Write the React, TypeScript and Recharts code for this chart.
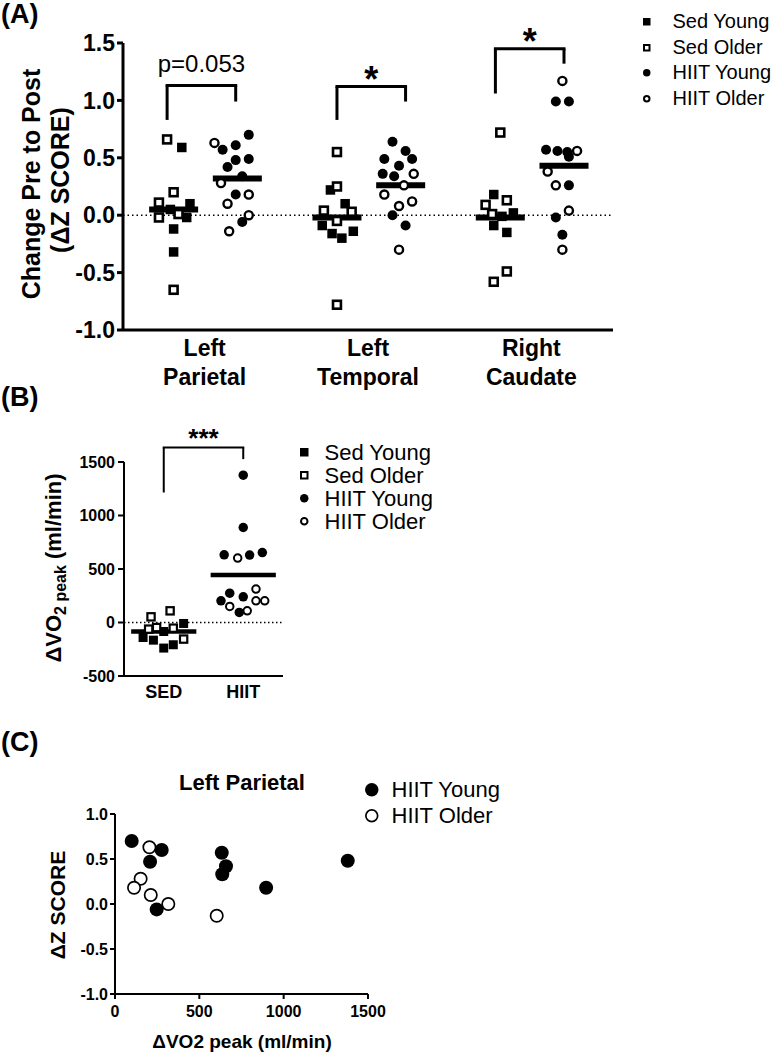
import React from 'react';
import { ScatterChart, Scatter, XAxis, YAxis, ReferenceLine, Legend } from 'recharts';

const FONT = '"Liberation Sans", Arial, sans-serif';

// ---- panel A: change pre to post (delta Z score) per region ----
const REGIONS = [['Left', 'Parietal'], ['Left', 'Temporal'], ['Right', 'Caudate']];
const A_TICKS = [-1, -0.5, 0, 0.5, 1, 1.5];
const SED_AT = 0.31;
const HIIT_AT = 0.7;

// [x jitter, value] per subject, one list per region
const A_SED_YOUNG = [
  [[0.05, 0.59], [0.1, 0.1], [-0.02, 0.05], [0.08, -0.02], [0, -0.12], [0, -0.32]],
  [[-0.04, 0.22], [0.05, 0.1], [-0.09, -0.09], [-0.03, -0.16], [0.1, -0.14], [0.03, -0.2]],
  [[-0.04, 0.18], [0.08, 0.02], [0.01, -0.01], [-0.04, -0.09], [0.04, -0.15]],
];
const A_SED_OLDER = [
  [[-0.04, 0.66], [0, 0.2], [-0.09, 0.11], [-0.09, -0.02], [0.03, 0.01], [0, -0.65]],
  [[0, 0.55], [0, 0.25], [-0.08, 0.04], [0.09, 0.03], [0, -0.05], [0, -0.78]],
  [[0, 0.72], [-0.09, 0.09], [0.04, 0.13], [-0.05, 0.01], [0.04, -0.49], [-0.04, -0.58]],
];
const A_HIIT_YOUNG = [
  [[-0.09, 0.57], [-0.01, 0.61], [0.07, 0.7], [-0.01, 0.48], [-0.06, 0.42], [0.07, 0.49], [0.03, 0.34], [-0.01, 0.18], [0.03, -0.06]],
  [[-0.05, 0.64], [0.03, 0.56], [-0.1, 0.49], [0.07, 0.49], [-0.01, 0.43], [-0.11, 0.36], [-0.04, 0.34], [-0.05, 0.0], [0.03, -0.09]],
  [[-0.05, 0.99], [0.03, 0.99], [-0.11, 0.57], [-0.04, 0.56], [0.02, 0.55], [0.03, 0.51], [0.03, 0.26], [-0.05, -0.02], [-0.01, -0.17]],
];
const A_HIIT_OLDER = [
  [[-0.14, 0.63], [-0.1, 0.28], [0.07, 0.18], [-0.06, 0.1], [0.07, 0.0], [-0.05, -0.14]],
  [[0.08, 0.36], [0.02, 0.26], [-0.1, 0.18], [0.07, 0.12], [-0.01, 0.08], [-0.01, -0.3]],
  [[-0.01, 1.17], [0.08, 0.56], [-0.1, 0.38], [-0.05, 0.26], [0.03, 0.04], [-0.01, -0.3]],
];
const A_MEDIANS = [[0.05, 0.32], [-0.02, 0.26], [-0.02, 0.43]];
// [left x, right x, top, left foot, right foot]
const A_BRACKETS = [
  [0.27, 0.69, 1.13, 0.83, 0.99],
  [1.31, 1.73, 1.12, 0.83, 0.99],
  [2.28, 2.7, 1.45, 1.06, 1.32],
];
const A_SIG = ['p=0.053', '*', '*'];

// ---- panel B: delta VO2 peak ----
const B_GROUPS = ['SED', 'HIIT'];
const B_TICKS = [-500, 0, 500, 1000, 1500];
const B_SED_YOUNG = [[0.25, -9], [0, -84], [-0.26, -140], [-0.13, -165], [0.12, -208], [0, -239]];
const B_SED_OLDER = [[-0.16, 53], [0.08, 109], [-0.19, -62], [-0.09, -47], [0.12, -53], [0.25, -155]];
const B_HIIT_YOUNG = [[0, 1377], [0, 888], [-0.24, 633], [0.08, 630], [0.24, 654], [-0.17, 274], [0, 240], [-0.28, 203], [-0.05, 94]];
const B_HIIT_OLDER = [[-0.07, 602], [0.16, 312], [0.16, 203], [0.27, 203], [-0.17, 150], [0.05, 109]];
const B_MEDIANS = [-84, 443];
const B_BRACKET = [0.5, 1.5, 1636, 1215, 1527];

// ---- panel C: left parietal vs delta VO2 ----
const C_YOUNG_VO2 = [99, 277, 208, 247, 633, 658, 636, 896, 1380];
const C_YOUNG_Z = [0.7, 0.6, 0.47, -0.06, 0.57, 0.42, 0.33, 0.18, 0.48];
const C_OLDER_VO2 = [204, 152, 113, 212, 316, 603];
const C_OLDER_Z = [0.63, 0.28, 0.18, 0.1, 0.0, -0.13];

type Kind = 'fsq' | 'osq' | 'fci' | 'oci';

const Marker = ({ kind, cx, cy, size, sw = 2 }: { kind: Kind; cx: number; cy: number; size: number; sw?: number }) => {
  const h = size / 2;
  if (kind === 'fsq') return <rect x={cx - h} y={cy - h} width={size} height={size} fill="#000" />;
  if (kind === 'osq')
    return <rect x={cx - h + sw / 2} y={cy - h + sw / 2} width={size - sw} height={size - sw} fill="#fff" stroke="#000" strokeWidth={sw} />;
  if (kind === 'fci') return <circle cx={cx} cy={cy} r={h} fill="#000" />;
  return <circle cx={cx} cy={cy} r={h - sw / 2} fill="#fff" stroke="#000" strokeWidth={sw} />;
};

const shapeOf = (kind: Kind, size: number, sw = 2) => (p: any) => <Marker kind={kind} cx={p.cx} cy={p.cy} size={size} sw={sw} />;

const LegendBox = ({ items, size, font, rowH, gap, sw = 2 }: any) => (
  <div style={{ fontFamily: FONT, fontSize: font, color: '#000' }}>
    {items.map(([kind, label]: [Kind, string]) => (
      <div key={label} style={{ display: 'flex', alignItems: 'center', height: rowH, whiteSpace: 'nowrap' }}>
        <svg width={size + 4} height={size + 4} style={{ flex: 'none' }}>
          <Marker kind={kind} cx={(size + 4) / 2} cy={(size + 4) / 2} size={size} sw={sw} />
        </svg>
        <span style={{ marginLeft: gap, lineHeight: rowH + 'px' }}>{label}</span>
      </div>
    ))}
  </div>
);

const FOUR: [Kind, string][] = [['fsq', 'Sed Young'], ['osq', 'Sed Older'], ['fci', 'HIIT Young'], ['oci', 'HIIT Older']];
const TWO: [Kind, string][] = [['fci', 'HIIT Young'], ['oci', 'HIIT Older']];

const regionPoints = (lists: number[][][], at: number) =>
  lists.flatMap((pts, i) => pts.map(([dx, y]) => ({ x: i + at + dx, y })));
const groupPoints = (pts: number[][], at: number) => pts.map(([dx, y]) => ({ x: at + dx, y }));

const RegionTick = ({ x, y, payload }: any) => {
  const lines = REGIONS[Math.floor(payload.value)];
  return (
    <text x={x} y={y} textAnchor="middle" fontFamily={FONT} fontWeight="bold" fontSize={23} fill="#000">
      <tspan x={x} dy={26}>{lines[0]}</tspan>
      <tspan x={x} dy={29}>{lines[1]}</tspan>
    </text>
  );
};

const axisA = { stroke: '#000', strokeWidth: 3 };
const axisBC = { stroke: '#000', strokeWidth: 2 };

const bracket = (b: number[], sig: string, key: string, sw: number, labelProps: any) => [
  <ReferenceLine key={key + 't'} ifOverflow="visible" stroke="#000" strokeWidth={sw} strokeLinecap="square"
    segment={[{ x: b[0], y: b[2] }, { x: b[1], y: b[2] }]}
    label={{ value: sig, position: 'top', fill: '#000', fontFamily: FONT, ...labelProps }} />,
  <ReferenceLine key={key + 'l'} ifOverflow="visible" stroke="#000" strokeWidth={sw} segment={[{ x: b[0], y: b[2] }, { x: b[0], y: b[3] }]} />,
  <ReferenceLine key={key + 'r'} ifOverflow="visible" stroke="#000" strokeWidth={sw} segment={[{ x: b[1], y: b[2] }, { x: b[1], y: b[4] }]} />,
];

const PanelA = () => (
  <ScatterChart width={777} height={400} margin={{ top: 43, right: 164, bottom: 40, left: 0 }}>
    <XAxis type="number" dataKey="x" domain={[0, 3]} ticks={[0.5, 1.5, 2.5]} interval={0} height={30}
      tick={<RegionTick />} tickLine={false} tickSize={0} tickMargin={0} axisLine={axisA} />
    <YAxis type="number" dataKey="y" domain={[-1, 1.5]} ticks={A_TICKS} interval={0} width={123}
      tickSize={6} tickMargin={2} tickLine={axisA} axisLine={axisA}
      tick={{ fill: '#000', fontSize: 23, fontWeight: 'bold', fontFamily: FONT }}
      tickFormatter={(v: number) => v.toFixed(1)} />
    <ReferenceLine y={0} stroke="#000" strokeWidth={1.5} strokeDasharray="1.5 3" />
    <Scatter name="Sed Young" data={regionPoints(A_SED_YOUNG, SED_AT)} shape={shapeOf('fsq', 9.5)} isAnimationActive={false} />
    <Scatter name="Sed Older" data={regionPoints(A_SED_OLDER, SED_AT)} shape={shapeOf('osq', 10.5, 2.6)} isAnimationActive={false} />
    <Scatter name="HIIT Young" data={regionPoints(A_HIIT_YOUNG, HIIT_AT)} shape={shapeOf('fci', 10)} isAnimationActive={false} />
    <Scatter name="HIIT Older" data={regionPoints(A_HIIT_OLDER, HIIT_AT)} shape={shapeOf('oci', 10.5, 2.4)} isAnimationActive={false} />
    {A_MEDIANS.flatMap(([sed, hiit], i) => [
      <ReferenceLine key={'ms' + i} stroke="#000" strokeWidth={6}
        segment={[{ x: i + SED_AT - 0.15, y: sed }, { x: i + SED_AT + 0.15, y: sed }]} />,
      <ReferenceLine key={'mh' + i} stroke="#000" strokeWidth={6}
        segment={[{ x: i + HIIT_AT - 0.15, y: hiit }, { x: i + HIIT_AT + 0.15, y: hiit }]} />,
    ])}
    {A_BRACKETS.flatMap((b, i) =>
      bracket(b, A_SIG[i], 'b' + i, 3,
        i === 0 ? { fontSize: 24, offset: 13 } : { fontSize: 36, fontWeight: 'bold', offset: -5 }))}
    <Legend layout="horizontal" verticalAlign="middle" align="center"
      wrapperStyle={{ left: 641, top: 9, width: 136 }}
      content={() => <LegendBox items={FOUR} size={7.5} font={20} rowH={25.5} gap={20} />} />
  </ScatterChart>
);

const PanelB = () => (
  <ScatterChart width={777} height={320} margin={{ top: 62, right: 494, bottom: 14, left: 0 }}>
    <XAxis type="number" dataKey="x" domain={[0, 2]} ticks={[0.5, 1.5]} interval={0} height={30}
      tickLine={false} tickSize={0} tickMargin={9} axisLine={axisBC}
      tick={{ fill: '#000', fontSize: 18, fontWeight: 'bold', fontFamily: FONT }}
      tickFormatter={(v: number) => B_GROUPS[Math.floor(v)]} />
    <YAxis type="number" dataKey="y" domain={[-500, 1500]} ticks={B_TICKS} interval={0} width={124}
      tickSize={6} tickMargin={3} tickLine={axisBC} axisLine={axisBC}
      tick={{ fill: '#000', fontSize: 16, fontWeight: 'bold', fontFamily: FONT }} />
    <ReferenceLine y={0} stroke="#000" strokeWidth={1.3} strokeDasharray="1.5 2.5" />
    <Scatter name="Sed Young" data={groupPoints(B_SED_YOUNG, 0.5)} shape={shapeOf('fsq', 9)} isAnimationActive={false} />
    <Scatter name="Sed Older" data={groupPoints(B_SED_OLDER, 0.5)} shape={shapeOf('osq', 9.5, 2.2)} isAnimationActive={false} />
    <Scatter name="HIIT Young" data={groupPoints(B_HIIT_YOUNG, 1.5)} shape={shapeOf('fci', 9.5)} isAnimationActive={false} />
    <Scatter name="HIIT Older" data={groupPoints(B_HIIT_OLDER, 1.5)} shape={shapeOf('oci', 9.5, 2)} isAnimationActive={false} />
    {B_MEDIANS.map((m, i) => (
      <ReferenceLine key={'m' + i} stroke="#000" strokeWidth={4.5}
        segment={[{ x: i + 0.5 - 0.41, y: m }, { x: i + 0.5 + 0.41, y: m }]} />
    ))}
    {bracket(B_BRACKET, '***', 'bb', 2, { fontSize: 26, fontWeight: 'bold', offset: 0 })}
    <Legend layout="horizontal" verticalAlign="middle" align="center"
      wrapperStyle={{ left: 298, top: 41, width: 160 }}
      content={() => <LegendBox items={FOUR} size={8.5} font={22} rowH={23} gap={14} />} />
  </ScatterChart>
);

const PanelC = () => (
  <ScatterChart width={777} height={337} margin={{ top: 94, right: 409, bottom: 8, left: 0 }}>
    <XAxis type="number" dataKey="x" domain={[0, 1500]} ticks={[0, 500, 1000, 1500]} interval={0} height={55}
      tickSize={5} tickMargin={7} tickLine={axisBC} axisLine={axisBC}
      tick={{ fill: '#000', fontSize: 16, fontWeight: 'bold', fontFamily: FONT }} />
    <YAxis type="number" dataKey="y" domain={[-1, 1]} ticks={[-1, -0.5, 0, 0.5, 1]} interval={0} width={115}
      tickSize={5} tickMargin={2} tickLine={axisBC} axisLine={axisBC}
      tick={{ fill: '#000', fontSize: 16, fontWeight: 'bold', fontFamily: FONT }}
      tickFormatter={(v: number) => v.toFixed(1)} />
    <Scatter name="HIIT Young" data={C_YOUNG_VO2.map((x, i) => ({ x, y: C_YOUNG_Z[i] }))} shape={shapeOf('fci', 14)} isAnimationActive={false} />
    <Scatter name="HIIT Older" data={C_OLDER_VO2.map((x, i) => ({ x, y: C_OLDER_Z[i] }))} shape={shapeOf('oci', 14, 1.7)} isAnimationActive={false} />
    <Legend layout="horizontal" verticalAlign="middle" align="center"
      wrapperStyle={{ left: 363, top: 57, width: 200 }}
      content={() => <LegendBox items={TWO} size={13.5} font={22} rowH={26} gap={11} sw={1.7} />} />
  </ScatterChart>
);

const Titles = () => (
  <svg width={777} height={1057} style={{ position: 'absolute', left: 0, top: 0, pointerEvents: 'none' }}
    fontFamily={FONT} fontWeight="bold" fill="#000">
    <text x={1} y={23} fontSize={27}>(A)</text>
    <text x={1} y={406} fontSize={27}>(B)</text>
    <text x={1} y={751} fontSize={27}>(C)</text>
    <text transform="translate(31,184) rotate(-90)" textAnchor="middle" dy="0.36em" fontSize={25}>Change Pre to Post</text>
    <text transform="translate(60,180) rotate(-90)" textAnchor="middle" dy="0.36em" fontSize={25}>(ΔZ SCORE)</text>
    <text transform="translate(53,568) rotate(-90)" textAnchor="middle" fontSize={22}>
      <tspan dy="0.36em">ΔVO</tspan>
      <tspan fontSize={16} dy={5}>2 peak</tspan>
      <tspan dy={-5}> (ml/min)</tspan>
    </text>
    <text x={242} y={790} textAnchor="middle" fontSize={22}>Left Parietal</text>
    <text transform="translate(57,905) rotate(-90)" textAnchor="middle" dy="0.36em" fontSize={21}>ΔZ SCORE</text>
    <text x={242} y={1048} textAnchor="middle" fontSize={19}>ΔVO2 peak (ml/min)</text>
  </svg>
);

export default function App() {
  return (
    <div style={{ position: 'absolute', left: 0, top: 0, width: 777, height: 1057, background: '#fff' }}>
      <div style={{ position: 'absolute', left: 0, top: 0 }}><PanelA /></div>
      <div style={{ position: 'absolute', left: 0, top: 400 }}><PanelB /></div>
      <div style={{ position: 'absolute', left: 0, top: 720 }}><PanelC /></div>
      <Titles />
    </div>
  );
}
